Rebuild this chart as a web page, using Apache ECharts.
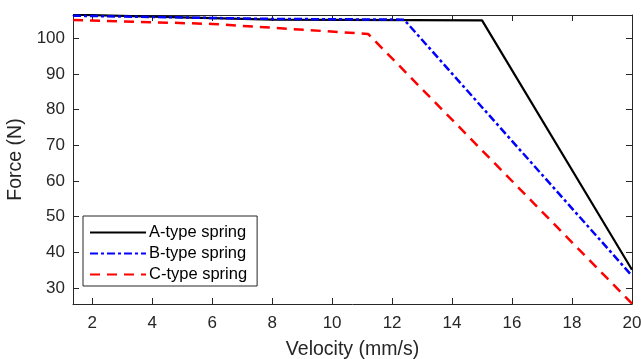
<!DOCTYPE html>
<html><head><meta charset="utf-8">
<script src="https://cdn.jsdelivr.net/npm/echarts@6/dist/echarts.min.js"></script>
<style>html,body{margin:0;padding:0;background:#fff}#c{width:641px;height:359px}</style>
</head><body><div id="c"></div>
<script>
const seriesNames = ['A-type spring', 'B-type spring', 'C-type spring'];
const aX = [1.36, 8, 15, 20];
const aY = [106.6, 105.2, 105.0, 35.1];
const bX = [1.36, 8, 12.4, 20];
const bY = [106.3, 105.4, 105.2, 33.4];
const cX = [1.36, 6, 11.2, 20];
const cY = [105.1, 104.0, 101.2, 25.6];
const xTicks = [2, 4, 6, 8, 10, 12, 14, 16, 18, 20];
const yTicks = [30, 40, 50, 60, 70, 80, 90, 100];
const xMin = 1.36, xMax = 20, yMin = 25.5, yMax = 106.5;

const pair = (xs, ys) => xs.map((x, i) => [x, ys[i]]);
const txt = '#262626';
const font = 'Liberation Sans, Arial, sans-serif';
const axisCommon = (pos, ticks, showLabel) => ({
  type: 'value', position: pos, splitLine: { show: false },
  axisLine: { show: true, onZero: false, lineStyle: { color: txt, width: 1 } },
  axisTick: { show: true, inside: true, length: 6, customValues: ticks, lineStyle: { color: txt } },
  axisLabel: { show: showLabel, customValues: ticks, color: txt, fontSize: 17, fontFamily: font }
});
const chart = echarts.init(document.getElementById('c'), null, { renderer: 'canvas' });
chart.setOption({
  animation: false,
  backgroundColor: '#fff',
  grid: { left: 73, right: 9, top: 15, bottom: 55, containLabel: false, outerBoundsMode: 'none' },
  xAxis: [
    Object.assign(axisCommon('bottom', xTicks, true), { min: xMin, max: xMax, name: 'Velocity (mm/s)', nameLocation: 'middle', nameGap: 36,
      nameTextStyle: { color: txt, fontSize: 19.5, fontFamily: font }, axisLabel: { show: true, customValues: xTicks, color: txt, fontSize: 17, fontFamily: font, margin: 11 } }),
    Object.assign(axisCommon('top', xTicks, false), { min: xMin, max: xMax })
  ],
  yAxis: [
    Object.assign(axisCommon('left', yTicks, true), { min: yMin, max: yMax, name: 'Force (N)', nameLocation: 'middle', nameGap: 45,
      nameTextStyle: { color: txt, fontSize: 19.5, fontFamily: font }, axisLabel: { show: true, customValues: yTicks, color: txt, fontSize: 17, fontFamily: font, margin: 8 } }),
    Object.assign(axisCommon('right', yTicks, false), { min: yMin, max: yMax })
  ],
  legend: {
    orient: 'vertical', left: 83, top: 216,
    backgroundColor: '#fff', borderColor: txt, borderWidth: 1, borderRadius: 0,
    padding: [7, 10, 2, 6], itemGap: 2, itemWidth: 56, itemHeight: 14,
    itemStyle: { opacity: 0 },
    textStyle: { color: '#000', fontSize: 16.5, lineHeight: 19, fontFamily: font, padding: [0, 0, 0, -2] },
    data: seriesNames
  },
  series: [
    { name: seriesNames[0], type: 'line', data: pair(aX, aY), symbol: 'none', lineStyle: { color: '#000', width: 2.2, type: 'solid' }, itemStyle: { color: '#000' } },
    { name: seriesNames[1], type: 'line', data: pair(bX, bY), symbol: 'none', lineStyle: { color: '#0000ff', width: 2.5, type: [8, 3, 3, 3] }, itemStyle: { color: '#0000ff' } },
    { name: seriesNames[2], type: 'line', data: pair(cX, cY), symbol: 'none', lineStyle: { color: '#ff0000', width: 2.5, type: [10, 7] }, itemStyle: { color: '#ff0000' } }
  ]
});
</script></body></html>
